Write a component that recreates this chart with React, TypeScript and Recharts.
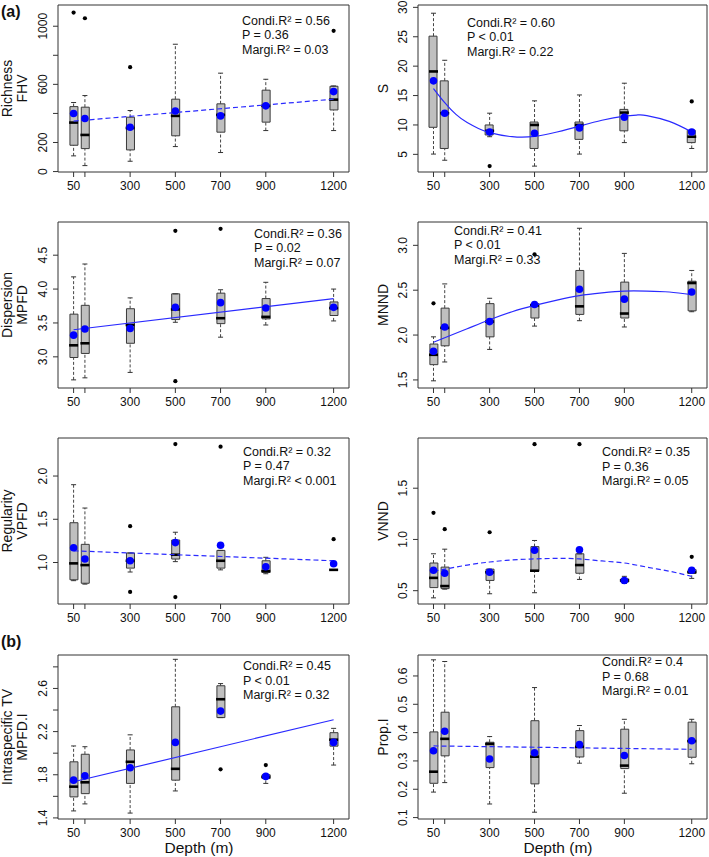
import React from 'react';
import { Bar, ComposedChart, ErrorBar, ReferenceArea, Scatter, XAxis, YAxis } from 'recharts';

const FONT = '"Liberation Sans", Arial, Helvetica, sans-serif';

const depths = [50, 100, 300, 500, 700, 900, 1200];
const depthLabels = ['50', '', '300', '500', '700', '900', '1200'];

// per depth: [lower whisker, Q1, median, Q3, upper whisker]
const fhvBox = [
  [108, 181, 337, 447, 475],
  [41, 158, 252, 443, 523],
  [71, 149, 300, 374, 420],
  [172, 246, 383, 498, 876],
  [131, 271, 390, 466, 677],
  [282, 340, 452, 560, 635],
  [282, 424, 495, 587, 589],
];
const fhvMean = [399, 365, 305, 417, 383, 452, 550];
const fhvOut = [[50, 1094], [100, 1055], [300, 718], [1200, 968]];
const fhvFit = [[50, 347], [1200, 498]];

const sBox = [
  [5.05, 9.6, 19.1, 25.1, 29.0],
  [4.0, 6.0, 12.0, 17.5, 21.0],
  [8.0, 8.3, 9.0, 10.0, 12.0],
  [3.0, 6.0, 10.0, 10.5, 14.1],
  [5.05, 7.55, 10.0, 10.5, 15.1],
  [7.0, 9.0, 12.1, 12.65, 17.1],
  [6.0, 7.0, 8.0, 9.1, 9.1],
];
const sMean = [17.5, 12.0, 8.8, 8.6, 9.5, 11.3, 8.8];
const sOut = [[300, 3.0], [1200, 14.0]];
const sFit = [
  [50, 16.2], [100, 13.8], [150, 11.8], [200, 10.4], [250, 9.4], [300, 8.7], [400, 8.0],
  [500, 8.05], [600, 8.8], [700, 9.8], [800, 10.8], [900, 11.5], [960, 11.7], [1000, 11.6],
  [1100, 10.6], [1200, 8.8],
];

const mpfdBox = [
  [2.66, 2.99, 3.17, 3.63, 4.18],
  [2.69, 3.05, 3.2, 3.76, 4.37],
  [2.77, 3.2, 3.47, 3.71, 3.87],
  [3.51, 3.55, 3.7, 3.93, 3.93],
  [3.29, 3.49, 3.57, 3.94, 3.99],
  [3.47, 3.56, 3.59, 3.86, 4.1],
  [3.53, 3.61, 3.72, 3.81, 4.0],
];
const mpfdMean = [3.32, 3.41, 3.42, 3.73, 3.8, 3.72, 3.73];
const mpfdOut = [[500, 4.86], [500, 2.64], [700, 4.89]];
const mpfdFit = [[50, 3.4], [1200, 3.86]];

const mnndBox = [
  [1.49, 1.67, 1.78, 1.9, 1.98],
  [1.7, 1.88, 2.08, 2.3, 2.57],
  [1.84, 1.98, 2.15, 2.35, 2.41],
  [2.1, 2.19, 2.33, 2.35, 2.35],
  [2.16, 2.23, 2.32, 2.72, 3.19],
  [2.09, 2.19, 2.24, 2.59, 2.91],
  [2.26, 2.27, 2.58, 2.6, 2.72],
];
const mnndMean = [1.82, 2.09, 2.15, 2.34, 2.51, 2.4, 2.48];
const mnndOut = [[50, 2.354], [500, 2.9]];
const mnndFit = [
  [50, 1.92], [100, 1.97], [200, 2.07], [300, 2.17], [400, 2.26], [500, 2.33], [600, 2.39],
  [700, 2.44], [800, 2.47], [900, 2.49], [1000, 2.49], [1100, 2.48], [1200, 2.45],
];

const vpfdBox = [
  [0.79, 0.8, 0.99, 1.46, 1.9],
  [0.75, 0.76, 0.97, 1.21, 1.63],
  [0.89, 0.935, 1.02, 1.11, 1.11],
  [1.01, 1.04, 1.09, 1.26, 1.35],
  [0.915, 0.935, 1.02, 1.14, 1.14],
  [0.87, 0.885, 0.9, 1.02, 1.06],
  [0.915, 0.915, 0.915, 0.915, 0.915],
];
const vpfdMean = [1.17, 1.04, 1.02, 1.23, 1.2, 0.95, 0.985];
const vpfdOut = [[300, 1.42], [300, 0.66], [500, 2.37], [500, 0.6], [700, 2.34], [1200, 1.27]];
const vpfdFit = [[50, 1.135], [1200, 1.02]];

const vnndBox = [
  [0.43, 0.53, 0.625, 0.77, 0.86],
  [0.515, 0.52, 0.545, 0.73, 0.905],
  [0.47, 0.6, 0.68, 0.71, 0.71],
  [0.48, 0.69, 0.695, 0.93, 0.99],
  [0.61, 0.67, 0.75, 0.86, 0.86],
  [0.57, 0.585, 0.6, 0.615, 0.64],
  [0.62, 0.67, 0.68, 0.705, 0.71],
];
const vnndMean = [0.7, 0.67, 0.68, 0.895, 0.9, 0.6, 0.7];
const vnndOut = [[50, 1.26], [100, 1.1], [300, 1.07], [500, 1.93], [700, 1.93], [1200, 0.83]];
const vnndFit = [
  [50, 0.69], [100, 0.71], [200, 0.75], [300, 0.78], [400, 0.8], [500, 0.81], [600, 0.815],
  [700, 0.81], [800, 0.79], [900, 0.77], [1000, 0.73], [1100, 0.69], [1200, 0.64],
];

const mpfdiBox = [
  [1.465, 1.595, 1.69, 1.92, 2.067],
  [1.53, 1.625, 1.73, 1.99, 2.06],
  [1.445, 1.72, 1.92, 2.03, 2.17],
  [1.65, 1.75, 1.855, 2.43, 2.87],
  [2.33, 2.33, 2.5, 2.625, 2.645],
  [1.72, 1.765, 1.78, 1.8, 1.8],
  [1.89, 2.065, 2.125, 2.19, 2.23],
];
const mpfdiMean = [1.75, 1.79, 1.865, 2.1, 2.39, 1.785, 2.1];
const mpfdiOut = [[700, 1.85], [900, 1.89]];
const mpfdiFit = [[50, 1.735], [1200, 2.31]];

const propBox = [
  [0.19, 0.221, 0.262, 0.4025, 0.657],
  [0.2235, 0.318, 0.378, 0.472, 0.651],
  [0.148, 0.2765, 0.36, 0.366, 0.386],
  [0.119, 0.219, 0.315, 0.442, 0.559],
  [0.292, 0.314, 0.35, 0.407, 0.425],
  [0.186, 0.273, 0.2835, 0.412, 0.447],
  [0.29, 0.313, 0.37, 0.437, 0.447],
];
const propMean = [0.336, 0.405, 0.307, 0.329, 0.358, 0.319, 0.371];
const propOut: number[][] = [];
const propFit = [[50, 0.353], [1200, 0.341]];

const rowPos = [
  { top: 5, h: 167 },
  { top: 222, h: 166 },
  { top: 438, h: 166 },
  { top: 655, h: 164 },
];
const colPos = [
  { left: 0, width: 355, ml: 18, mr: 6 },
  { left: 355, width: 354, ml: 23, mr: 2 },
];
const X_DOMAIN: [number, number] = [-19, 1268];

const panels = [
  {
    row: 0, col: 0, box: fhvBox, mean: fhvMean, out: fhvOut, fit: fhvFit, dashed: true, curve: false,
    domain: [-3, 1146], ticks: [0, 200, 400, 600, 800, 1000], labels: ['0', '200', '', '600', '', '1000'],
    title: ['Richness', 'FHV'], stats: ['= 0.56', 'P = 0.36', '= 0.03'], tx: 242, ty: 25.5,
  },
  {
    row: 0, col: 1, box: sBox, mean: sMean, out: sOut, fit: sFit, dashed: false, curve: true,
    domain: [2, 30.4], ticks: [5, 10, 15, 20, 25, 30], labels: ['5', '10', '15', '20', '25', '30'],
    title: ['S'], stats: ['= 0.60', 'P < 0.01', '= 0.22'], tx: 467, ty: 27.8,
  },
  {
    row: 1, col: 0, box: mpfdBox, mean: mpfdMean, out: mpfdOut, fit: mpfdFit, dashed: false, curve: false,
    domain: [2.54, 4.99], ticks: [3, 3.5, 4, 4.5], labels: ['3.0', '3.5', '4.0', '4.5'],
    title: ['Dispersion', 'MPFD'], stats: ['= 0.36', 'P = 0.02', '= 0.07'], tx: 254, ty: 238.8,
  },
  {
    row: 1, col: 1, box: mnndBox, mean: mnndMean, out: mnndOut, fit: mnndFit, dashed: false, curve: true,
    domain: [1.41, 3.26], ticks: [1.5, 2, 2.5, 3], labels: ['1.5', '2.0', '2.5', '3.0'],
    title: ['MNND'], stats: ['= 0.41', 'P < 0.01', '= 0.33'], tx: 454, ty: 235.5,
  },
  {
    row: 2, col: 0, box: vpfdBox, mean: vpfdMean, out: vpfdOut, fit: vpfdFit, dashed: true, curve: false,
    domain: [0.52, 2.44], ticks: [1, 1.5, 2], labels: ['1.0', '1.5', '2.0'],
    title: ['Regularity', 'VPFD'], stats: ['= 0.32', 'P = 0.47', '< 0.001'], tx: 243, ty: 456.8,
  },
  {
    row: 2, col: 1, box: vnndBox, mean: vnndMean, out: vnndOut, fit: vnndFit, dashed: true, curve: true,
    domain: [0.37, 1.99], ticks: [0.5, 1, 1.5], labels: ['0.5', '1.0', '1.5'],
    title: ['VNND'], stats: ['= 0.35', 'P = 0.36', '= 0.05'], tx: 602, ty: 457.2,
  },
  {
    row: 3, col: 0, box: mpfdiBox, mean: mpfdiMean, out: mpfdiOut, fit: mpfdiFit, dashed: false, curve: false,
    domain: [1.39, 2.91], ticks: [1.4, 1.6, 1.8, 2.0, 2.2, 2.4, 2.6, 2.8],
    labels: ['1.4', '', '1.8', '', '2.2', '', '2.6', ''],
    title: ['Intraspecific TV', 'MPFD.I'], stats: ['= 0.45', 'P < 0.01', '= 0.32'], tx: 243, ty: 671.2,
  },
  {
    row: 3, col: 1, box: propBox, mean: propMean, out: propOut, fit: propFit, dashed: true, curve: false,
    domain: [0.095, 0.674], ticks: [0.1, 0.2, 0.3, 0.4, 0.5, 0.6], labels: ['0.1', '0.2', '0.3', '0.4', '0.5', '0.6'],
    title: ['Prop.I'], stats: ['= 0.4', 'P = 0.68', '= 0.01'], tx: 602, ty: 667.2,
  },
];

const Empty = () => <g />;
const CapShape = (p: any) => (
  <line x1={p.cx - 2.5} x2={p.cx + 2.5} y1={p.cy} y2={p.cy} stroke="#333" strokeWidth={1} />
);
const MedShape = (p: any) => (
  <line x1={p.cx - 4.5} x2={p.cx + 4.5} y1={p.cy} y2={p.cy} stroke="#000" strokeWidth={2.6} />
);
const MeanShape = (p: any) => <circle cx={p.cx} cy={p.cy} r={3.8} fill="#0000ff" />;
const OutShape = (p: any) => <circle cx={p.cx} cy={p.cy} r={2.1} fill="#000" />;

const YTick = (props: any) => {
  const { x, y, payload, ticks, labels } = props;
  const i = ticks.indexOf(payload.value);
  const label = i >= 0 ? labels[i] : '';
  if (!label) return <g />;
  const cx = x - 10;
  return (
    <text
      x={cx}
      y={y}
      transform={`rotate(-90 ${cx} ${y})`}
      textAnchor="middle"
      dominantBaseline="central"
      fontSize={12}
      fill="#111"
    >
      {label}
    </text>
  );
};

const BoxPanel = ({ p }: { p: any }) => {
  const r = rowPos[p.row];
  const c = colPos[p.col];
  const rows = depths.map((d, i) => {
    const [lo, q1, med, q3, hi] = p.box[i];
    return { depth: d, lo, q1, med, q3, hi };
  });
  const whisk = rows.flatMap((b) => [
    { depth: b.depth, v: b.q3, err: [0, b.hi - b.q3] },
    { depth: b.depth, v: b.q1, err: [b.q1 - b.lo, 0] },
  ]);
  const caps = rows.flatMap((b) => [
    { depth: b.depth, v: b.hi },
    { depth: b.depth, v: b.lo },
  ]);
  const meds = rows.map((b) => ({ depth: b.depth, v: b.med }));
  const means = depths.map((d, i) => ({ depth: d, v: p.mean[i] }));
  const outs = p.out.map(([d, v]: number[]) => ({ depth: d, v }));
  const fit = p.fit.map(([d, v]: number[]) => ({ depth: d, v }));

  return (
    <div style={{ position: 'absolute', left: c.left, top: r.top - 5 }}>
      <ComposedChart
        width={c.width}
        height={r.h + 35}
        data={rows}
        margin={{ top: 5, right: c.mr, bottom: 0, left: c.ml }}
      >
        <XAxis
          dataKey="depth"
          type="number"
          domain={X_DOMAIN}
          ticks={depths}
          interval={0}
          allowDataOverflow
          axisLine={false}
          tickLine={{ stroke: '#333' }}
          tickSize={5}
          tickMargin={4}
          height={30}
          tick={{ fontSize: 12, fill: '#111' }}
          tickFormatter={(v: number) => depthLabels[depths.indexOf(v)] ?? ''}
        />
        <YAxis
          dataKey="v"
          type="number"
          domain={p.domain}
          ticks={p.ticks}
          interval={0}
          allowDataOverflow
          axisLine={false}
          tickLine={{ stroke: '#333' }}
          tickSize={5}
          tickMargin={0}
          width={40}
          tick={(tp: any) => <YTick {...tp} ticks={p.ticks} labels={p.labels} />}
        />
        <ReferenceArea
          x1={X_DOMAIN[0]}
          x2={X_DOMAIN[1]}
          y1={p.domain[0]}
          y2={p.domain[1]}
          fill="none"
          stroke="#333"
          strokeWidth={1}
          ifOverflow="visible"
        />
        <Scatter data={whisk} dataKey="v" shape={Empty} isAnimationActive={false}>
          <ErrorBar
            dataKey="err"
            direction="y"
            width={0}
            stroke="#444"
            strokeWidth={1}
            strokeDasharray="3 2"
            isAnimationActive={false}
          />
        </Scatter>
        <Scatter data={caps} dataKey="v" shape={CapShape} isAnimationActive={false} />
        <Bar
          dataKey={(d: any) => [d.q1, d.q3]}
          barSize={8}
          fill="#bfbfbf"
          stroke="#3a3a3a"
          strokeWidth={1}
          isAnimationActive={false}
        />
        <Scatter data={meds} dataKey="v" shape={MedShape} isAnimationActive={false} />
        <Scatter
          data={fit}
          dataKey="v"
          shape={Empty}
          line={{
            stroke: '#2a2aff',
            strokeWidth: 1.2,
            strokeDasharray: p.dashed ? '5 3' : undefined,
          }}
          lineJointType={p.curve ? 'natural' : 'linear'}
          isAnimationActive={false}
        />
        <Scatter data={outs} dataKey="v" shape={OutShape} isAnimationActive={false} />
        <Scatter data={means} dataKey="v" shape={MeanShape} isAnimationActive={false} />
      </ComposedChart>
    </div>
  );
};

const Stats = ({ p }: { p: any }) => (
  <g fontSize={12.5} fill="#111">
    <text x={p.tx} y={p.ty - 1}>{'Condi.R² ' + p.stats[0]}</text>
    <text x={p.tx} y={p.ty + 13.5}>{p.stats[1]}</text>
    <text x={p.tx} y={p.ty + 28}>{'Margi.R² ' + p.stats[2]}</text>
  </g>
);

const Title = ({ p }: { p: any }) => {
  const r = rowPos[p.row];
  const cy = r.top + r.h / 2;
  const xs = p.title.length === 2 ? [7, 22] : [p.col === 0 ? 15 : 383];
  return (
    <g fontSize={14} fill="#111">
      {p.title.map((t: string, i: number) => (
        <text
          key={t}
          x={xs[i]}
          y={cy}
          transform={`rotate(-90 ${xs[i]} ${cy})`}
          textAnchor="middle"
          dominantBaseline="central"
        >
          {t}
        </text>
      ))}
    </g>
  );
};

export default function App() {
  return (
    <div
      style={{
        position: 'absolute',
        left: 0,
        top: 0,
        width: 709,
        height: 857,
        background: '#fff',
        fontFamily: FONT,
      }}
    >
      {panels.map((p, i) => (
        <BoxPanel key={i} p={p} />
      ))}
      <svg
        width={709}
        height={857}
        style={{ position: 'absolute', left: 0, top: 0, pointerEvents: 'none', fontFamily: FONT }}
      >
        {panels.map((p, i) => (
          <g key={i}>
            <Stats p={p} />
            <Title p={p} />
          </g>
        ))}
        <text x={1} y={17} fontSize={16} fontWeight="bold" fill="#111">(a)</text>
        <text x={1} y={647} fontSize={16} fontWeight="bold" fill="#111">(b)</text>
        <text x={199} y={853} fontSize={15.5} textAnchor="middle" fill="#111">Depth (m)</text>
        <text x={558} y={853} fontSize={15.5} textAnchor="middle" fill="#111">Depth (m)</text>
      </svg>
    </div>
  );
}
